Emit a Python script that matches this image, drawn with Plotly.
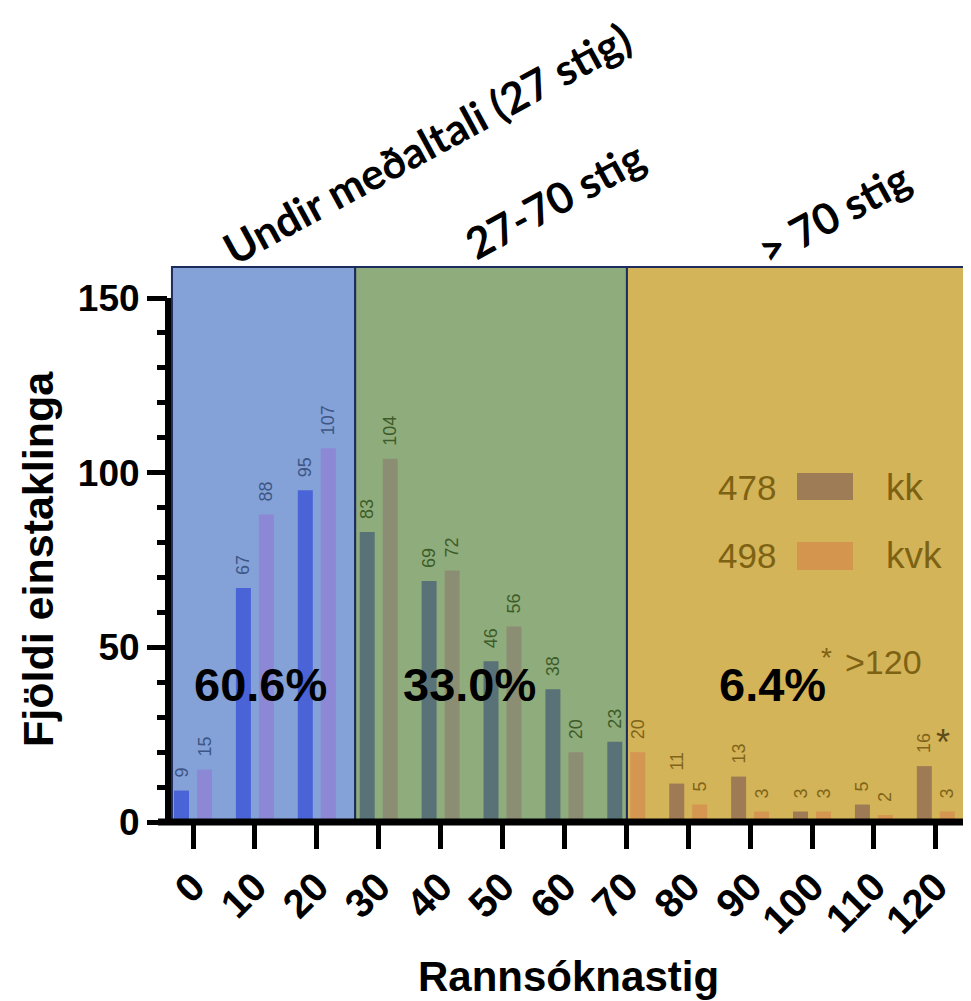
import plotly.graph_objects as go

# ---------------- data ----------------
categories = [0, 10, 20, 30, 40, 50, 60, 70, 80, 90, 100, 110, 120]
kk = [9, 67, 95, 83, 69, 46, 38, 23, 11, 13, 3, 5, 16]
kvk = [15, 88, 107, 104, 72, 56, 20, 20, 5, 3, 3, 2, 3]
series_names = ["kk", "kvk"]
region_edges = [-3.4, 26.2, 70.1, 125.7]
region_titles = ["Undir meðaltali (27 stig)", "27-70 stig", "> 70 stig"]
region_pcts = ["60.6%", "33.0%", "6.4%"]
x_title = "Rannsóknastig"
y_title = "Fjöldi einstaklinga"
y_ticks = [0, 50, 100, 150]

# ---------------- style ----------------
REGION_FILL = ["#84a2d8", "#8fad7c", "#d4b458"]
KK_COL = ["#4a64d8", "#587278", "#9e7b55"]
KVK_COL = ["#8c88d6", "#8c8e74", "#d49650"]
LBL_COL = ["#3d5685", "#3e5c28", "#80641a"]
BORDER = "#1c2c5c"
OLIVE = "#7d6214"
ARIAL = "Arial, Liberation Sans, sans-serif"
CAL = "Lato, Carlito, sans-serif"

# page body has an 8px margin: build the figure 8px smaller
PAGE_OFF = 8
W, H = 971 - PAGE_OFF, 1001 - PAGE_OFF
# plot area in reference-pixel coordinates
L, R, T, B = 168, 971, 267, 822
XMIN = -4.04
XMAX = XMIN + (R - L) / 6.19
YMAX = (B - T) / 3.493

BARGAP = 0.257
BARGROUPGAP = 0.348
slot = (1 - BARGAP) * 10 / 2
off = slot / 2


def region_of(xv):
    for i in range(3):
        if xv < region_edges[i + 1]:
            return i
    return 2


def px(p):
    return (p - L) / (R - L)


def py(p):
    return (B - p) / (B - T)


kk_reg = [region_of(c - off) for c in categories]
kvk_reg = [region_of(c + off) for c in categories]

fig = go.Figure()
nb = "\u00a0\u00a0"
fig.add_trace(go.Bar(
    x=categories, y=kk, name=series_names[0],
    marker=dict(color=[KK_COL[r] for r in kk_reg], line=dict(width=0)),
    text=[nb + str(v) for v in kk], textposition="outside", textangle=-90,
    textfont=dict(family=ARIAL, size=18, color=[LBL_COL[r] for r in kk_reg]),
    cliponaxis=False, constraintext="none", showlegend=False,
))
fig.add_trace(go.Bar(
    x=categories, y=kvk, name=series_names[1],
    marker=dict(color=[KVK_COL[r] for r in kvk_reg], line=dict(width=0)),
    text=[nb + str(v) for v in kvk], textposition="outside", textangle=-90,
    textfont=dict(family=ARIAL, size=18, color=[LBL_COL[r] for r in kvk_reg]),
    cliponaxis=False, constraintext="none", showlegend=False,
))

shapes = []
for i in range(3):
    shapes.append(dict(
        type="rect", xref="x", yref="paper",
        x0=region_edges[i], x1=region_edges[i + 1], y0=0, y1=1,
        fillcolor=REGION_FILL[i], line=dict(color=BORDER, width=2), layer="below",
    ))
# axis lines
shapes.append(dict(type="line", xref="paper", yref="y", x0=0, x1=0, y0=0, y1=150,
                   line=dict(color="black", width=6)))
shapes.append(dict(type="line", xref="paper", yref="paper", x0=px(158), x1=px(968),
                   y0=py(822), y1=py(822), line=dict(color="black", width=7)))
# legend swatches
shapes.append(dict(type="rect", xref="paper", yref="paper", x0=px(797), x1=px(853),
                   y0=py(500), y1=py(473), fillcolor="#9e7c56", line=dict(width=0)))
shapes.append(dict(type="rect", xref="paper", yref="paper", x0=px(797), x1=px(853),
                   y0=py(570), y1=py(542), fillcolor="#d4964e", line=dict(width=0)))

ann = []
title_pos = [(426, 143), (555, 200), (833, 213)]
for t, (xx, yy) in zip(region_titles, title_pos):
    ann.append(dict(text="<b>" + t + "</b>", x=px(xx), y=py(yy), xref="paper", yref="paper",
                    showarrow=False, textangle=-28.5, xanchor="center", yanchor="middle",
                    font=dict(family=CAL, size=43, color="black")))
pct_pos = [(260, 684), (469, 684), (772, 684)]
for t, (xx, yy) in zip(region_pcts, pct_pos):
    ann.append(dict(text="<b>" + t + "</b>", x=px(xx), y=py(yy), xref="paper", yref="paper",
                    showarrow=False, xanchor="center", yanchor="middle",
                    font=dict(family=ARIAL, size=47, color="black")))
# legend text
ann.append(dict(text=str(sum(kk)), x=px(778), y=py(487), xref="paper", yref="paper",
                showarrow=False, xanchor="right", yanchor="middle",
                font=dict(family=ARIAL, size=35, color=OLIVE)))
ann.append(dict(text=str(sum(kvk)), x=px(778), y=py(555), xref="paper", yref="paper",
                showarrow=False, xanchor="right", yanchor="middle",
                font=dict(family=ARIAL, size=35, color=OLIVE)))
ann.append(dict(text=series_names[0], x=px(884), y=py(487), xref="paper", yref="paper",
                showarrow=False, xanchor="left", yanchor="middle",
                font=dict(family=ARIAL, size=37, color=OLIVE)))
ann.append(dict(text=series_names[1], x=px(884), y=py(555), xref="paper", yref="paper",
                showarrow=False, xanchor="left", yanchor="middle",
                font=dict(family=ARIAL, size=37, color=OLIVE)))
# >120 note
ann.append(dict(text="*", x=px(826), y=py(657), xref="paper", yref="paper",
                showarrow=False, xanchor="center", yanchor="middle",
                font=dict(family=ARIAL, size=28, color=OLIVE)))
ann.append(dict(text=">120", x=px(843), y=py(662), xref="paper", yref="paper",
                showarrow=False, xanchor="left", yanchor="middle",
                font=dict(family=ARIAL, size=34, color=OLIVE)))
ann.append(dict(text="*", x=px(943), y=py(742), xref="paper", yref="paper",
                showarrow=False, xanchor="center", yanchor="middle",
                font=dict(family=ARIAL, size=36, color="#5e4c1a")))
# axis titles
ann.append(dict(text="<b>" + x_title + "</b>", x=px(568), y=py(976), xref="paper", yref="paper",
                showarrow=False, xanchor="center", yanchor="middle",
                font=dict(family=ARIAL, size=42, color="black")))
ann.append(dict(text="<b>" + y_title + "</b>", x=px(38), y=py(559), xref="paper", yref="paper",
                showarrow=False, xanchor="center", yanchor="middle", textangle=-90,
                font=dict(family=ARIAL, size=43, color="black")))

fig.update_layout(
    width=W, height=H,
    margin=dict(l=L - PAGE_OFF, r=971 - R, t=T - PAGE_OFF, b=1001 - B, pad=0),
    paper_bgcolor="white", plot_bgcolor="white",
    barmode="group", bargap=BARGAP, bargroupgap=BARGROUPGAP,
    shapes=shapes, annotations=ann,
    showlegend=False,
)
fig.update_xaxes(
    range=[XMIN, XMAX], tickmode="array", tickvals=categories,
    ticktext=["<b>%d</b>" % c for c in categories],
    tickangle=-45, ticks="outside", ticklen=26, tickwidth=5, tickcolor="black",
    tickfont=dict(family=ARIAL, size=40, color="black"),
    showgrid=False, zeroline=False, showline=False, ticklabelstandoff=-2,
)
fig.update_yaxes(
    range=[0, YMAX], tickmode="array", tickvals=y_ticks,
    ticktext=["<b>%d</b>" % v for v in y_ticks],
    ticks="outside", ticklen=20, tickwidth=5, tickcolor="black",
    minor=dict(dtick=10, tick0=0, ticks="outside", ticklen=10, tickwidth=5, tickcolor="black",
               showgrid=False),
    tickfont=dict(family=ARIAL, size=37, color="black"),
    showgrid=False, zeroline=False, showline=False,
)

fig.write_html("out.html")
